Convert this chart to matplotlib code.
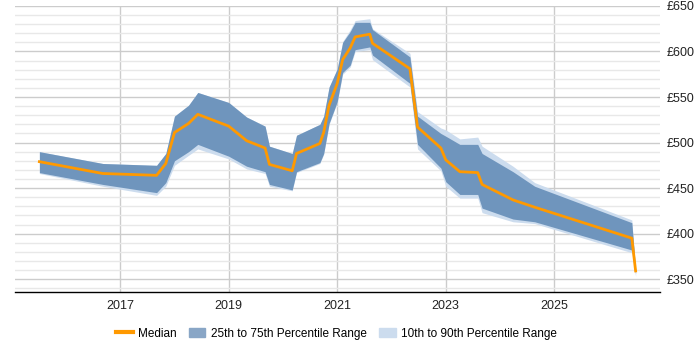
import matplotlib.pyplot as plt
from matplotlib.ticker import MultipleLocator, FuncFormatter
from matplotlib.patches import Patch
from matplotlib.lines import Line2D

plt.rcParams['font.family'] = ['Liberation Sans', 'DejaVu Sans']

# decimal years
years = [2015.51, 2016.68, 2017.67, 2017.84, 2018.0, 2018.26, 2018.43, 2019.0,
         2019.33, 2019.67, 2019.75, 2020.17, 2020.25, 2020.68, 2020.75, 2020.85,
         2021.0, 2021.1, 2021.24, 2021.33, 2021.6, 2021.65, 2022.34, 2022.48,
         2022.91, 2023.0, 2023.26, 2023.59, 2023.67, 2024.24, 2024.64, 2026.43,
         2026.5]

median = [479, 466, 464, 477, 511, 521, 531, 518,
          502, 494, 476, 469, 488, 499, 511, 541,
          565, 591, 604, 616, 619, 609, 581, 517,
          494, 481, 468, 467, 454, 437, 429, 395,
          359]

p25 = [467, 454, 445, 456, 480, 490, 498, 485,
       474, 468, 454, 448, 468, 478, 488, 521,
       545, 577, 585, 602, 605, 596, 565, 498,
       472, 457, 443, 443, 428, 416, 413, 382,
       356]

p75 = [490, 477, 475, 488, 529, 541, 555, 544,
       528, 518, 496, 488, 508, 520, 529, 561,
       581, 610, 622, 632, 632, 624, 594, 529,
       510, 507, 498, 498, 488, 468, 452, 412,
       360]

p10 = [466, 452, 442, 452, 475, 486, 493, 482,
       471, 466, 452, 447, 467, 477, 487, 520,
       544, 575, 583, 600, 602, 591, 561, 493,
       469, 452, 439, 439, 423, 413, 411, 379,
       353]

p90 = [490, 477, 475, 488, 529, 541, 555, 544,
       528, 518, 496, 488, 508, 520, 529, 561,
       581, 611, 624, 634, 636, 625, 598, 534,
       516, 514, 504, 506, 496, 474, 456, 415,
       361]

year_ticks = [2017, 2019, 2021, 2023, 2025]

fig = plt.figure(figsize=(7, 3.5), dpi=100)
ax = fig.add_axes([0.0214, 0.166, 0.9215, 0.817])

ax.fill_between(years, p10, p90, color='#ccdcee', lw=0, zorder=2)
ax.fill_between(years, p25, p75, color='#6f95bd', lw=0, zorder=3)
ax.plot(years, median, color='#ff9900', lw=2, zorder=4)

ax.set_xlim(2015.06, 2026.95)
ax.set_ylim(336, 650)
ax.set_xticks(year_ticks)
ax.set_xticklabels([str(y) for y in year_ticks])
ax.yaxis.set_major_locator(MultipleLocator(50))
ax.yaxis.set_minor_locator(MultipleLocator(10))
ax.yaxis.set_major_formatter(FuncFormatter(lambda v, p: '£%d' % v))
ax.yaxis.tick_right()

ax.grid(which='major', axis='y', color='#cccccc', lw=1, zorder=0)
ax.grid(which='minor', axis='y', color='#e8e8e8', lw=1, zorder=0)
ax.grid(which='major', axis='x', color='#cccccc', lw=1, zorder=0)
ax.set_axisbelow(True)

for s in ['left', 'right', 'top']:
    ax.spines[s].set_visible(False)
ax.spines['bottom'].set_color('black')
ax.spines['bottom'].set_linewidth(1)
ax.tick_params(axis='both', which='both', length=0, labelsize=9, colors='#222222')
ax.tick_params(axis='x', pad=6)
ax.tick_params(axis='y', pad=5)

handles = [Line2D([0], [0], color='#ff9900', lw=3),
           Patch(color='#89a6c6'),
           Patch(color='#ccdcee')]
labels = ['Median', '25th to 75th Percentile Range', '10th to 90th Percentile Range']
fig.legend(handles, labels, loc='center', bbox_to_anchor=(0.481, 0.047), ncol=3,
           frameon=False, fontsize=8.5, handlelength=1.4, columnspacing=1.0,
           handletextpad=0.5)

fig.savefig('out.png', dpi=100)
